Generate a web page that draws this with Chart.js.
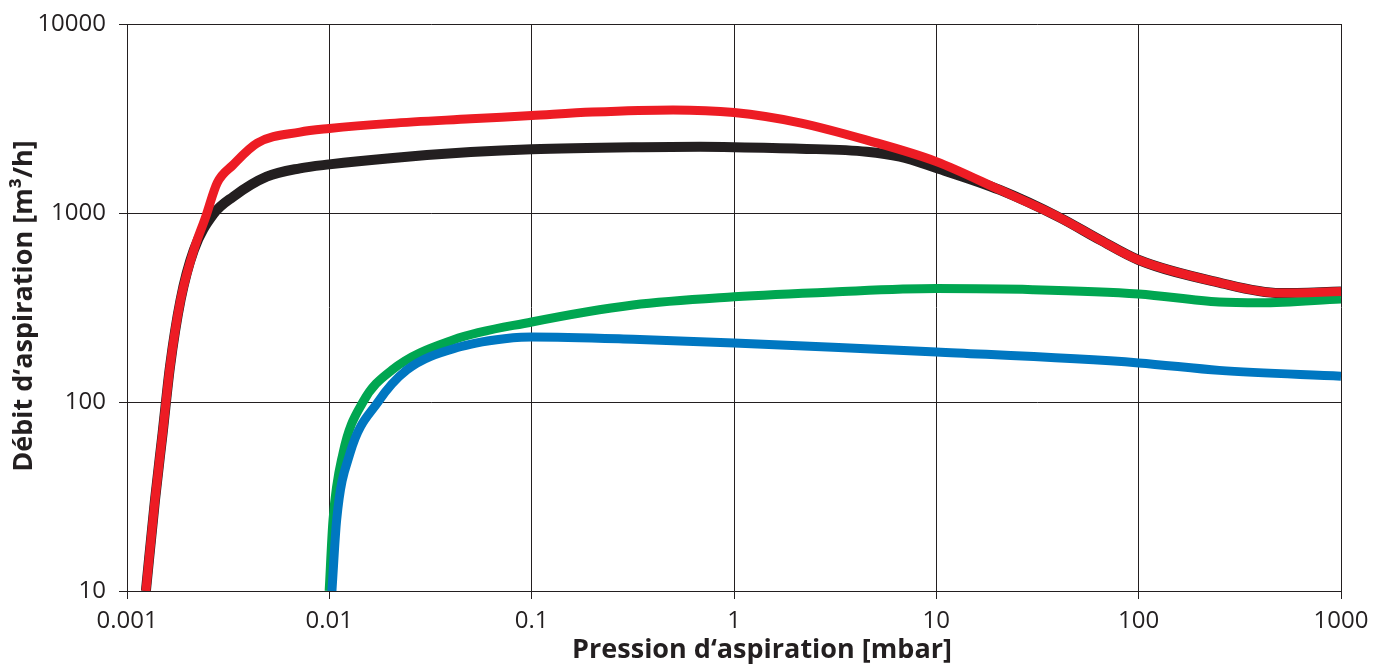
<!DOCTYPE html>
<html>
<head>
<meta charset="utf-8">
<script src="https://cdn.jsdelivr.net/npm/chart.js@4.4.1/dist/chart.umd.min.js"></script>
<style>
  html, body { margin: 0; padding: 0; background: #fff; }
</style>
</head>
<body>
<canvas id="pumpChart" width="1374" height="664"></canvas>
<script>
// tick labels
const xTicks = [0.001, 0.01, 0.1, 1, 10, 100, 1000];
const yTicks = [10, 100, 1000, 10000];
const xTitle = "Pression d\u2018aspiration [mbar]";
const yTitle = "Débit d\u2018aspiration [m³/h]";

// red curve (pressure mbar / flow m3/h)
const redP = [0.00124, 0.001375, 0.0015, 0.00163, 0.00184, 0.00214, 0.00245, 0.00279, 0.00334, 0.0044, 0.00716, 0.01, 0.02, 0.05, 0.1, 0.2, 0.5, 1, 2.12, 4.53, 10, 20.6, 41, 64.4, 100, 244, 500, 1000];
const redQ = [10, 30.3, 68.5, 153, 347, 637, 956, 1442, 1795, 2344, 2680, 2800, 2980, 3150, 3280, 3420, 3510, 3400, 3000, 2430, 1870, 1324, 942, 720, 564, 431, 377, 384];

// black curve
const blackP = [0.00124, 0.001375, 0.0015, 0.00163, 0.00184, 0.00214, 0.00267, 0.00335, 0.0049, 0.00716, 0.01, 0.02, 0.05, 0.1, 0.35, 0.68, 1, 2.12, 4.53, 6.6, 10, 20.6, 41, 64.4, 100, 244, 500, 1000];
const blackQ = [10, 30.3, 68.5, 153, 347, 637, 985, 1220, 1556, 1724, 1808, 1950, 2100, 2175, 2230, 2240, 2230, 2190, 2111, 1986, 1730, 1324, 942, 720, 564, 431, 377, 384];

// green curve
const greenP = [0.00998, 0.01043, 0.01168, 0.01466, 0.0204, 0.0409, 0.1, 0.317, 1, 3.09, 10, 30, 100, 250, 400, 1000];
const greenQ = [10, 23.8, 53.5, 100, 147.7, 213, 265, 326, 360, 382, 398, 393, 373, 338, 335, 351];

// blue curve
const blueP = [0.0103, 0.01087, 0.01265, 0.0174, 0.02413, 0.0443, 0.0809, 0.1, 0.317, 1, 3.09, 10, 100, 250, 1000];
const blueQ = [10, 23.8, 53.5, 100, 147.7, 196, 219, 221, 215, 205, 195, 184, 161, 147, 137];

const ink = "#231F20";
const fontName = "'Open Sans', 'DejaVu Sans', sans-serif";

function points(px, qs) {
  return px.map((p, i) => ({ x: p, y: qs[i] }));
}

function curve(label, px, qs, color, width) {
  return {
    label,
    data: points(px, qs),
    borderColor: color,
    backgroundColor: color,
    borderWidth: width,
    pointRadius: 0,
    cubicInterpolationMode: "monotone",
    borderCapStyle: "butt",
    borderJoinStyle: "round",
    clip: 0,
    fill: false
  };
}

// axis titles are not centred on the plot in the original, so place them by hand
const axisTitles = {
  id: "axisTitles",
  afterDraw(chart) {
    const c = chart.ctx;
    c.save();
    c.fillStyle = ink;
    c.textAlign = "center";
    c.font = "bold 27px " + fontName;
    c.textBaseline = "alphabetic";
    c.fillText(xTitle, chart.chartArea.left + 635, 658);
    c.textBaseline = "middle";
    c.translate(24, 306);
    c.rotate(-Math.PI / 2);
    c.fillText(yTitle, 0, 0);
    c.restore();
  }
};

const ctx = document.getElementById("pumpChart").getContext("2d");

// first dataset is drawn on top
new Chart(ctx, {
  type: "line",
  data: {
    datasets: [
      curve("blue", blueP, blueQ, "#0077C1", 9),
      curve("red", redP, redQ, "#ED1C24", 9),
      curve("green", greenP, greenQ, "#00A651", 9),
      curve("black", blackP, blackQ, ink, 10)
    ]
  },
  plugins: [axisTitles],
  options: {
    responsive: false,
    animation: false,
    layout: {
      padding: { top: 24, right: 33, left: 0, bottom: 0 }
    },
    plugins: {
      legend: { display: false },
      tooltip: { enabled: false }
    },
    scales: {
      x: {
        type: "logarithmic",
        min: 0.001,
        max: 1000,
        afterBuildTicks: s => { s.ticks = xTicks.map(v => ({ value: v })); },
        afterFit: s => {
          s.height = 73;
          s.paddingLeft = 0;
          s.paddingRight = 0;
        },
        grid: { color: ink, lineWidth: 1, tickLength: 8, drawTicks: true },
        border: { color: ink, width: 1 },
        ticks: {
          color: ink,
          font: { family: fontName, size: 24 },
          padding: 8,
          maxRotation: 0,
          autoSkip: false,
          callback: v => String(v)
        },
        title: { display: false }
      },
      y: {
        type: "logarithmic",
        min: 10,
        max: 10000,
        afterBuildTicks: s => { s.ticks = yTicks.map(v => ({ value: v })); },
        afterFit: s => {
          s.width = 127;
          s.paddingTop = 0;
          s.paddingBottom = 0;
        },
        grid: { color: ink, lineWidth: 1, tickLength: 8, drawTicks: true },
        border: { color: ink, width: 1 },
        ticks: {
          color: ink,
          font: { family: fontName, size: 24 },
          padding: 13,
          autoSkip: false,
          callback: v => String(v)
        },
        title: { display: false }
      }
    }
  }
});
</script>
</body>
</html>
